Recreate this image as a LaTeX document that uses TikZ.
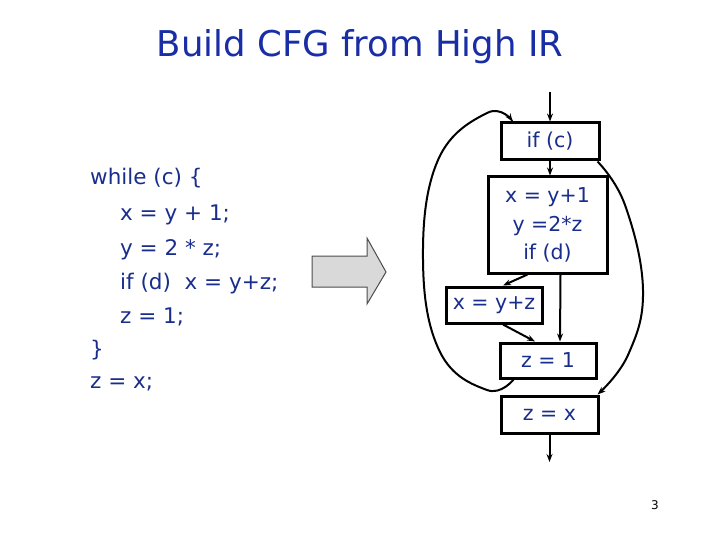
\documentclass[tikz,border=0pt]{standalone}
\usepackage{fontspec}
\setmainfont{DejaVu Sans}
\usetikzlibrary{arrows.meta}
\definecolor{titleblue}{RGB}{25,45,165}
\definecolor{codeblue}{RGB}{25,45,140}
\begin{document}
\begin{tikzpicture}[x=1pt,y=-1pt,
  blk/.style={draw=black,line width=3pt,fill=white,text=codeblue,font=\fontsize{20.5}{28.5}\selectfont,inner sep=0pt,align=center},
  code/.style={anchor=west,text=codeblue,font=\fontsize{21.5}{24}\selectfont,inner sep=0pt},
  edge/.style={line width=2pt,-{Stealth[length=8pt,width=6pt]}}]
\useasboundingbox (0,0) rectangle (720,540);
\node[text=titleblue,font=\fontsize{35.5}{40}\selectfont] (title) at (360,47) {Build CFG from High IR};
% code
\node[code] (l1) at (90,178) {while (c) \{};
\node[code] (l2) at (120,215) {x = y + 1;};
\node[code] (l3) at (120,250) {y = 2 * z;};
\node[code] (l4) at (120,284) {if (d)\ \ x = y+z;};
\node[code] (l5) at (120,317) {z = 1;};
\node[code] (l6) at (90,350) {\}};
\node[code] (l7) at (90,384) {z = x;};
% big arrow
\draw[fill=black!15,draw=black!70,line width=1pt] (312,256) -- (367,256) -- (367,238) -- (386,272) -- (367,304) -- (367,287) -- (312,287) -- cycle;
% blocks
\node[blk,minimum width=98pt,minimum height=37pt] (ifc) at (550,141.5) {if (c)};
\node[blk,minimum width=119pt,minimum height=96pt] (b2) at (547.5,225) {x = y+1\\y =2*z\\if (d)};
\node[blk,minimum width=96pt,minimum height=36pt] (b3) at (494,305) {x = y+z};
\node[blk,minimum width=96pt,minimum height=35pt] (z1) at (548,360.5) {z = 1};
\node[blk,minimum width=97pt,minimum height=37pt] (zx) at (549.5,414.5) {z = x};
\coordinate (entry) at (550,92);
\coordinate (exit) at (549.5,462);
% edges
\draw[edge] (entry) -- (ifc.north);
\draw[edge] (ifc.south) -- (b2.north -| ifc.south);
\draw[edge] ([xshift=-20pt]b2.south) -- ([xshift=9pt]b3.north);
\draw[edge] ([xshift=13pt]b2.south) -- ([xshift=12pt]z1.north);
\draw[edge] ([xshift=9pt]b3.south) -- ([xshift=-13pt]z1.north);
\draw[edge] (zx.south) -- (exit);
\draw[edge] plot[smooth,tension=0.7] coordinates {([xshift=15pt]z1.south west) (487,390) (440,352) (423,260) (438,160) (487,113) ([xshift=13pt]ifc.north west)};
\draw[edge] plot[smooth,tension=0.7] coordinates {([xshift=-3pt]ifc.south east) (625,205) (643,290) (628,355) ([xshift=-2pt]zx.north east)};
\node[font=\fontsize{12}{14}\selectfont] (pg) at (655,505) {3};
\end{tikzpicture}
\end{document}
